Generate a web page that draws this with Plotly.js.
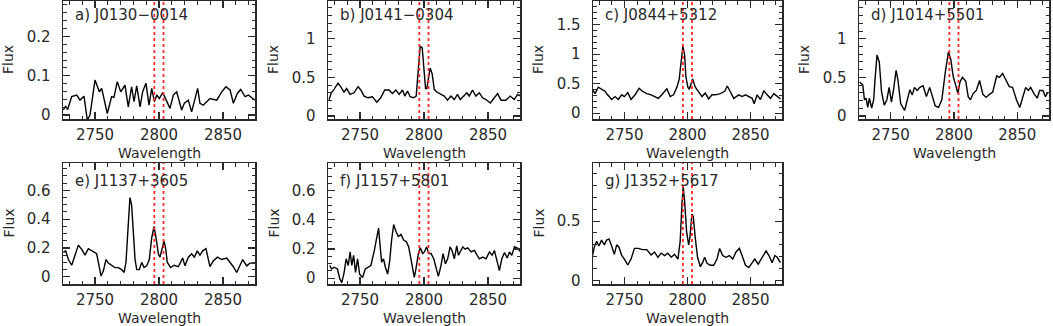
<!DOCTYPE html>
<html><head><meta charset="utf-8">
<script src="https://cdn.plot.ly/plotly-3.0.1.min.js"></script>
<style>html,body{margin:0;padding:0;background:#fff;overflow:hidden}</style>
</head><body><div id="chart" style="width:1053px;height:326px"></div>
<script>
const panelNames = ["a) J0130\u22120014","b) J0141\u22120304","c) J0844+5312","d) J1014+5501","e) J1137+3605","f) J1157+5801","g) J1352+5617"];
const mgII = [2796.35, 2803.53];
const xTickStep = 50;
const yTickSteps = [0.1,0.5,0.5,0.5,0.2,0.2,0.5];

const wave_a = [2725.3,2727.1,2728.6,2731.8,2735.7,2738.3,2741.4,2744.0,2746.1,2750.0,2753.4,2755.2,2759.6,2763.0,2764.8,2767.4,2770.1,2773.4,2776.0,2778.6,2780.5,2782.6,2785.2,2787.2,2789.8,2792.2,2794.3,2796.4,2798.2,2800.3,2802.9,2805.5,2808.6,2811.2,2813.8,2817.7,2819.8,2822.9,2825.5,2830.2,2832.0,2834.6,2839.8,2845.1,2849.0,2852.3,2855.5,2858.1,2861.2,2863.8,2867.2,2869.8,2875.0];
const flux_a = [0.013,0.023,0.014,0.047,0.051,0.038,0.048,-0.013,0.0,0.089,0.059,0.068,0.004,0.047,0.045,0.085,0.059,0.076,0.021,0.072,0.034,0.074,0.021,0.059,0.081,0.025,0.068,0.034,0.051,0.042,0.057,0.038,0.017,0.051,0.059,0.013,0.030,0.038,0.008,0.068,0.030,0.025,0.042,0.038,0.059,0.072,0.064,0.030,0.055,0.065,0.047,0.051,0.038];

const wave_b = [2725.8,2727.6,2729.7,2732.8,2734.9,2737.5,2739.6,2742.2,2745.3,2748.5,2750.6,2753.2,2756.3,2759.7,2763.1,2766.2,2769.3,2772.7,2775.3,2778.0,2780.6,2783.2,2785.0,2787.1,2789.2,2791.8,2793.9,2795.4,2797.0,2798.6,2800.1,2801.2,2802.2,2803.8,2804.8,2806.4,2808.0,2810.0,2813.2,2815.8,2818.4,2821.0,2823.6,2826.2,2828.3,2830.9,2833.5,2835.3,2837.9,2840.5,2843.2,2845.8,2848.4,2851.8,2854.9,2857.5,2860.1,2864.0,2867.4,2870.5,2873.1,2875.7];
const flux_b = [0.21,0.30,0.345,0.425,0.38,0.31,0.354,0.28,0.30,0.38,0.336,0.257,0.235,0.248,0.177,0.235,0.336,0.336,0.29,0.336,0.28,0.336,0.257,0.323,0.248,0.235,0.257,0.52,0.90,0.885,0.544,0.354,0.354,0.557,0.62,0.544,0.345,0.31,0.28,0.257,0.204,0.257,0.212,0.28,0.212,0.257,0.30,0.257,0.336,0.257,0.30,0.235,0.212,0.168,0.235,0.29,0.204,0.204,0.257,0.212,0.28,0.257];

const wave_c = [2724.4,2726.6,2729.2,2731.9,2734.5,2736.6,2739.8,2742.5,2745.1,2747.8,2749.9,2752.6,2755.2,2758.4,2761.6,2764.2,2767.7,2771.1,2774.3,2776.9,2779.6,2783.6,2786.3,2788.9,2791.6,2793.4,2795.0,2796.35,2797.7,2798.7,2800.3,2801.4,2803.0,2804.0,2806.2,2808.8,2811.5,2814.1,2816.8,2819.4,2822.1,2826.1,2829.5,2831.6,2834.0,2836.7,2840.7,2843.3,2846.0,2848.6,2851.3,2852.9,2855.3,2857.9,2860.6,2863.2,2865.9,2868.5,2871.2,2873.8];
const flux_c = [0.41,0.33,0.44,0.41,0.37,0.31,0.23,0.28,0.23,0.31,0.28,0.35,0.23,0.31,0.42,0.37,0.33,0.31,0.28,0.25,0.31,0.41,0.28,0.31,0.44,0.57,0.88,1.13,0.99,0.62,0.44,0.40,0.51,0.58,0.44,0.37,0.28,0.34,0.24,0.31,0.31,0.33,0.37,0.46,0.35,0.25,0.31,0.28,0.31,0.28,0.25,0.16,0.31,0.23,0.38,0.31,0.25,0.33,0.28,0.24];

const wave_d = [2725.5,2728.0,2729.3,2730.6,2731.9,2733.2,2735.0,2736.6,2737.6,2739.2,2741.0,2742.8,2744.9,2747.0,2748.8,2750.6,2752.2,2754.3,2755.8,2757.9,2761.0,2763.1,2765.2,2767.0,2768.8,2770.9,2773.0,2775.6,2778.2,2780.8,2783.4,2785.2,2787.8,2790.4,2793.0,2795.6,2797.4,2799.4,2801.5,2803.1,2804.7,2806.7,2809.3,2811.2,2813.0,2815.1,2817.6,2820.2,2822.8,2825.4,2828.0,2830.6,2833.7,2835.8,2838.4,2841.0,2843.6,2846.2,2849.3,2851.9,2854.5,2856.6,2858.7,2860.5,2863.1,2865.7,2867.6,2870.2,2872.2,2874.3];
const flux_d = [0.44,0.40,0.21,0.23,0.11,0.23,0.10,0.21,0.46,0.79,0.70,0.31,0.14,0.21,0.37,0.18,0.33,0.59,0.46,0.16,0.07,0.21,0.34,0.27,0.37,0.33,0.37,0.39,0.25,0.37,0.24,0.13,0.11,0.21,0.55,0.83,0.74,0.51,0.39,0.29,0.44,0.50,0.45,0.25,0.21,0.29,0.33,0.46,0.28,0.24,0.28,0.31,0.52,0.50,0.55,0.46,0.38,0.37,0.21,0.11,0.25,0.37,0.33,0.37,0.29,0.23,0.33,0.33,0.25,0.31];

const wave_e = [2725.3,2727.1,2729.2,2731.8,2734.4,2737.0,2739.6,2742.2,2744.8,2747.4,2751.3,2753.1,2754.7,2756.5,2758.6,2760.4,2763.0,2765.6,2768.2,2770.8,2772.7,2774.2,2775.5,2777.3,2778.6,2779.9,2781.3,2782.6,2784.6,2786.5,2788.3,2790.4,2792.4,2794.3,2796.1,2797.7,2799.5,2800.8,2802.1,2803.9,2805.2,2806.5,2809.1,2811.7,2815.1,2818.5,2820.3,2822.9,2825.5,2827.6,2829.9,2832.0,2834.1,2836.7,2839.8,2842.4,2845.6,2849.0,2852.9,2855.5,2858.1,2860.7,2863.3,2865.4,2868.5,2871.1,2875.0];
const flux_e = [0.17,0.18,0.12,0.08,0.15,0.22,0.19,0.15,0.195,0.18,0.16,0.08,0.005,0.04,0.12,0.095,0.08,0.064,0.064,0.05,0.03,0.10,0.29,0.55,0.50,0.29,0.12,0.05,0.05,0.10,0.064,0.076,0.12,0.27,0.35,0.27,0.16,0.136,0.18,0.25,0.195,0.10,0.064,0.08,0.07,0.13,0.076,0.136,0.16,0.136,0.18,0.15,0.18,0.195,0.07,0.11,0.136,0.12,0.13,0.10,0.07,0.03,0.08,0.12,0.076,0.095,0.095];

const wave_f = [2726.4,2727.7,2729.8,2732.4,2734.3,2735.8,2737.6,2739.2,2740.8,2742.3,2743.6,2745.0,2746.5,2748.1,2749.7,2752.0,2754.1,2755.9,2758.5,2761.2,2763.2,2764.5,2765.8,2766.9,2768.4,2769.8,2771.6,2773.1,2774.7,2776.3,2778.1,2779.9,2782.0,2784.1,2786.2,2788.0,2789.8,2791.4,2792.4,2793.7,2795.6,2797.1,2799.0,2800.3,2802.1,2803.7,2805.5,2807.6,2809.4,2811.2,2813.3,2814.9,2816.7,2818.5,2820.4,2821.9,2823.7,2825.6,2826.9,2828.4,2830.3,2832.1,2834.2,2836.8,2839.4,2841.5,2843.3,2845.9,2848.5,2851.1,2853.2,2855.0,2857.1,2858.9,2860.8,2862.9,2865.0,2866.8,2868.6,2870.7,2873.3,2875.4];
const flux_f = [0.087,0.063,0.075,0.063,-0.007,-0.03,0.04,0.133,0.087,0.18,0.087,0.157,0.04,0.133,0.028,0.005,0.063,0.075,0.087,0.19,0.274,0.344,0.215,0.11,0.133,0.075,0.028,0.11,0.262,0.368,0.32,0.286,0.30,0.262,0.25,0.215,0.133,0.04,0.005,0.063,0.169,0.208,0.169,0.18,0.215,0.169,0.169,0.133,0.063,0.012,0.087,0.169,0.098,0.133,0.215,0.19,0.133,0.222,0.157,0.18,0.215,0.199,0.208,0.18,0.19,0.157,0.133,0.145,0.133,0.18,0.157,0.19,0.11,0.052,0.133,0.176,0.138,0.18,0.157,0.215,0.204,0.18];

const wave_g = [2724.4,2726.0,2727.9,2729.7,2731.8,2734.0,2735.8,2737.7,2739.8,2741.9,2743.8,2745.6,2747.8,2749.9,2752.6,2755.2,2757.9,2761.0,2764.2,2767.7,2771.1,2773.8,2776.5,2779.1,2781.8,2784.4,2787.1,2789.7,2792.4,2794.2,2795.6,2796.6,2797.7,2799.3,2800.9,2801.9,2803.5,2804.6,2806.2,2808.0,2810.2,2812.0,2813.6,2815.5,2818.1,2820.8,2823.4,2825.5,2827.9,2830.6,2833.2,2835.9,2838.5,2841.2,2843.3,2846.0,2848.6,2850.8,2853.4,2856.1,2858.7,2862.4,2864.6,2867.2,2869.3,2871.2,2873.8];
const flux_g = [0.195,0.28,0.33,0.29,0.34,0.30,0.34,0.35,0.29,0.22,0.30,0.28,0.21,0.18,0.13,0.18,0.27,0.27,0.26,0.26,0.215,0.24,0.195,0.23,0.21,0.23,0.195,0.22,0.18,0.33,0.645,0.79,0.67,0.41,0.30,0.36,0.56,0.54,0.355,0.195,0.116,0.15,0.195,0.145,0.128,0.128,0.18,0.27,0.21,0.195,0.21,0.18,0.24,0.27,0.21,0.128,0.108,0.145,0.18,0.137,0.18,0.25,0.21,0.15,0.21,0.195,0.15];

const waves = [wave_a, wave_b, wave_c, wave_d, wave_e, wave_f, wave_g];
const fluxes = [flux_a, flux_b, flux_c, flux_d, flux_e, flux_f, flux_g];

// layout (pixels) and axis ranges
const W = 1053, H = 326;
const frames = [[63,255,1,119],[328,520,1,119],[593,782,1,119],[859,1049,1,119],
                [63,255,163,284],[328,520,163,284],[593,782,163,284]];
const xRange = [2725, 2875];
const yRanges = [[-0.01,0.29],[-0.04,1.49],[-0.1,1.9],[-0.04,1.49],[-0.05,0.79],[-0.04,0.79],[-0.03,0.99]];

const FONT = "DejaVu Sans, sans-serif";
const INK = "#2a2a2a";
const layout = {
  width: W, height: H, margin: {l:0, r:0, t:0, b:0},
  paper_bgcolor: "#fff", plot_bgcolor: "#fff", showlegend: false,
  font: {family: FONT, size: 15, color: INK},
  shapes: [], annotations: []
};
const data = [];
frames.forEach((f, i) => {
  const n = i + 1;
  const xa = "xaxis" + (n === 1 ? "" : n), ya = "yaxis" + (n === 1 ? "" : n);
  const xr = "x" + (n === 1 ? "" : n), yr = "y" + (n === 1 ? "" : n);
  const common = {
    showgrid: false, zeroline: false, showline: true, linecolor: INK, linewidth: 1.5,
    mirror: "ticks", ticks: "inside", ticklen: 7, tickwidth: 1.2, tickcolor: INK,
    tickfont: {family: FONT, size: 15, color: INK}
  };
  layout[xa] = Object.assign({}, common, {
    domain: [f[0]/W, f[1]/W], range: xRange, anchor: yr,
    tick0: 2750, dtick: xTickStep, ticklabelstandoff: 1,
    minor: {ticks: "inside", ticklen: 3.5, dtick: 10, tickcolor: INK, tickwidth: 1}
  });
  layout[ya] = Object.assign({}, common, {
    domain: [1 - f[3]/H, 1 - f[2]/H], range: yRanges[i], anchor: xr,
    tick0: 0, dtick: yTickSteps[i], ticklabelstandoff: 8,
    minor: {ticks: "inside", ticklen: 3.5, dtick: yTickSteps[i]/(yTickSteps[i] === 0.2 ? 4 : 5), tickcolor: INK, tickwidth: 1}
  });
  data.push({x: waves[i], y: fluxes[i], xaxis: xr, yaxis: yr, type: "scatter", mode: "lines",
             line: {color: "#000", width: 1.4}, hoverinfo: "skip"});
  mgII.forEach(w => layout.shapes.push({type: "line", xref: xr, yref: yr + " domain", x0: w, x1: w, y0: 0, y1: 1,
    line: {color: "#ff2a2a", width: 1.8, dash: "dot"}, layer: "above"}));
  layout.annotations.push({xref: "paper", yref: "paper", x: (f[0]+10)/W, y: 1 - (f[2] + (i < 4 ? 14 : 18))/H,
    xanchor: "left", yanchor: "middle", showarrow: false, text: panelNames[i], font: {family: FONT, size: 15, color: INK}});
  layout.annotations.push({xref: "paper", yref: "paper", x: (f[0]-55)/W, y: 1 - ((f[2]+f[3])/2)/H,
    xanchor: "center", yanchor: "middle", textangle: -90, showarrow: false, text: "Flux", font: {family: FONT, size: 14, color: INK}});
  layout.annotations.push({xref: "paper", yref: "paper", x: ((f[0]+f[1])/2)/W, y: 1 - (i < 4 ? 152.5 : 317.5)/H,
    xanchor: "center", yanchor: "middle", showarrow: false, text: "Wavelength", font: {family: FONT, size: 14, color: INK}});
});
Plotly.newPlot("chart", data, layout, {staticPlot: true, displayModeBar: false});
</script></body></html>
